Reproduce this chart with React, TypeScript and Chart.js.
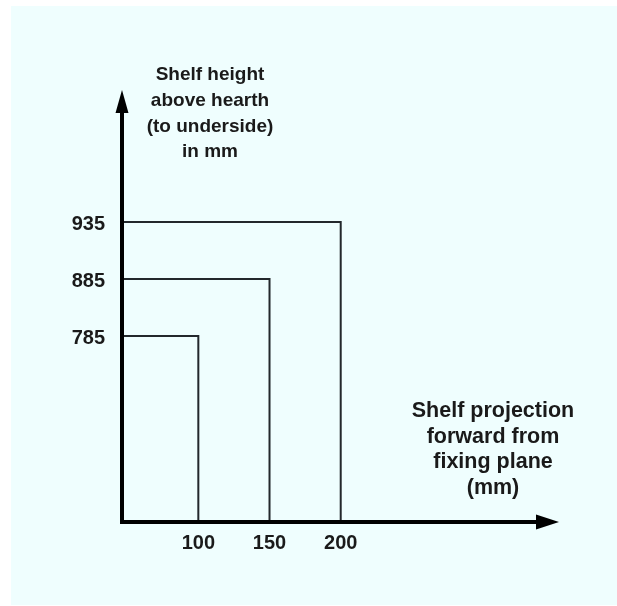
import React, { useEffect, useRef } from 'react';
import { Chart, LinearScale, registerables } from 'chart.js';

// ---- data ----
const projections = [100, 150, 200]; // shelf projection forward from fixing plane (mm)
const heights = [785, 885, 935]; // shelf height above hearth (mm)
const xTickLabels = ['100', '150', '200'];
const yTickLabels = ['785', '885', '935'];
const yTitleLines = ['Shelf height', 'above hearth', '(to underside)', 'in mm'];
const xTitleLines = ['Shelf projection', 'forward from', 'fixing plane', '(mm)'];

// Schematic axis: the listed levels are evenly spaced, origin (0) is `lead` steps
// before the first level and the axis runs `tail` steps past the last one.
class EvenStepScale extends LinearScale {
  static id = 'evenStep';
  static defaults = { ...(LinearScale as any).defaults };

  levels(): number[] {
    const l = (this.options as any).levels;
    return Array.isArray(l) ? Array.from(l) : [];
  }
  determineDataLimits() {
    const L = this.levels();
    (this as any).min = 0;
    (this as any).max = L[L.length - 1];
  }
  buildTicks() {
    return this.levels().map((v) => ({ value: v }));
  }
  toSteps(v: number): number {
    const L = this.levels();
    const lead = (this.options as any).lead;
    const n = L.length;
    if (v <= L[0]) return (v / L[0]) * lead;
    for (let i = 0; i < n - 1; i++) {
      if (v <= L[i + 1]) return lead + i + (v - L[i]) / (L[i + 1] - L[i]);
    }
    return lead + (n - 1) + (v - L[n - 1]) / (L[n - 1] - L[n - 2]);
  }
  totalSteps(): number {
    const o = this.options as any;
    return o.lead + (this.levels().length - 1) + o.tail;
  }
  getPixelForValue(v: number) {
    return this.getPixelForDecimal(this.toSteps(v) / this.totalSteps());
  }
  getValueForPixel(_p: number) {
    return 0;
  }
}

Chart.register(...registerables, EvenStepScale as any);

const FONT = '"Liberation Sans", Arial, sans-serif';
const TEXT = '#1a1a1a';

const axesPlugin = {
  id: 'arrowAxes',
  afterDatasetsDraw(chart: any) {
    const { ctx, chartArea } = chart;
    const { left, right, top, bottom } = chartArea;
    ctx.save();
    ctx.strokeStyle = '#000';
    ctx.fillStyle = '#000';
    ctx.lineWidth = 4;
    ctx.beginPath();
    ctx.moveTo(left, bottom + 2);
    ctx.lineTo(left, top + 22);
    ctx.stroke();
    ctx.beginPath();
    ctx.moveTo(left - 2, bottom);
    ctx.lineTo(right - 22, bottom);
    ctx.stroke();
    ctx.beginPath();
    ctx.moveTo(left, top);
    ctx.lineTo(left - 6.5, top + 23);
    ctx.lineTo(left + 6.5, top + 23);
    ctx.closePath();
    ctx.fill();
    ctx.beginPath();
    ctx.moveTo(right, bottom);
    ctx.lineTo(right - 23, bottom - 7.5);
    ctx.lineTo(right - 23, bottom + 7.5);
    ctx.closePath();
    ctx.fill();
    ctx.restore();
  },
  afterDraw(chart: any) {
    const { ctx, chartArea } = chart;
    const { left, top, right, bottom } = chartArea;
    ctx.save();
    ctx.fillStyle = TEXT;
    ctx.textAlign = 'center';
    ctx.textBaseline = 'middle';
    const lh = 25.7;
    ctx.font = `bold 19px ${FONT}`;
    yTitleLines.forEach((t, i) => ctx.fillText(t, left + 88, top - 15 + i * lh));
    ctx.font = `bold 21.5px ${FONT}`;
    xTitleLines.forEach((t, i) => ctx.fillText(t, right - 66, bottom - 111 + i * lh));
    ctx.restore();
  },
};

export default function App() {
  const ref = useRef<HTMLCanvasElement>(null);

  useEffect(() => {
    if (!ref.current) return;
    const datasets = heights.map((h, i) => ({
      label: `${projections[i]} x ${h}`,
      data: [
        { x: 0, y: h },
        { x: projections[i], y: h },
        { x: projections[i], y: 0 },
      ],
      borderColor: '#23282c',
      borderWidth: 2,
      pointRadius: 0,
      tension: 0,
      fill: false,
    }));
    const chart = new Chart(ref.current, {
      type: 'line',
      data: { datasets },
      plugins: [axesPlugin],
      options: {
        animation: false,
        responsive: false,
        events: [],
        layout: { padding: { left: 62, top: 90, right: 58, bottom: 44 } },
        plugins: { legend: { display: false }, tooltip: { enabled: false } },
        scales: {
          x: {
            type: 'evenStep' as any,
            levels: projections,
            lead: 1.072,
            tail: 3.066,
            grid: { display: false, drawTicks: false },
            border: { display: false },
            ticks: {
              padding: 9,
              color: TEXT,
              font: { family: FONT, size: 20, weight: 'bold' },
              callback: (_v: any, i: number) => xTickLabels[i],
            },
            afterFit: (s: any) => {
              s.height = 40;
            },
          } as any,
          y: {
            type: 'evenStep' as any,
            levels: heights,
            lead: 3.263,
            tail: 2.316,
            grid: { display: false, drawTicks: false },
            border: { display: false },
            ticks: {
              padding: 17,
              labelOffset: 2,
              color: TEXT,
              font: { family: FONT, size: 20, weight: 'bold' },
              callback: (_v: any, i: number) => yTickLabels[i],
            },
            afterFit: (s: any) => {
              s.width = 60;
            },
          } as any,
        },
      } as any,
    });
    return () => chart.destroy();
  }, []);

  return (
    <div style={{ position: 'absolute', left: 0, top: 0, width: 617, height: 606, background: '#fff', overflow: 'hidden' }}>
      <div style={{ position: 'absolute', left: 11, top: 6, right: 0, bottom: 1, background: '#effefe' }} />
      <canvas ref={ref} width={617} height={606} style={{ position: 'absolute', left: 0, top: 0 }} />
    </div>
  );
}
